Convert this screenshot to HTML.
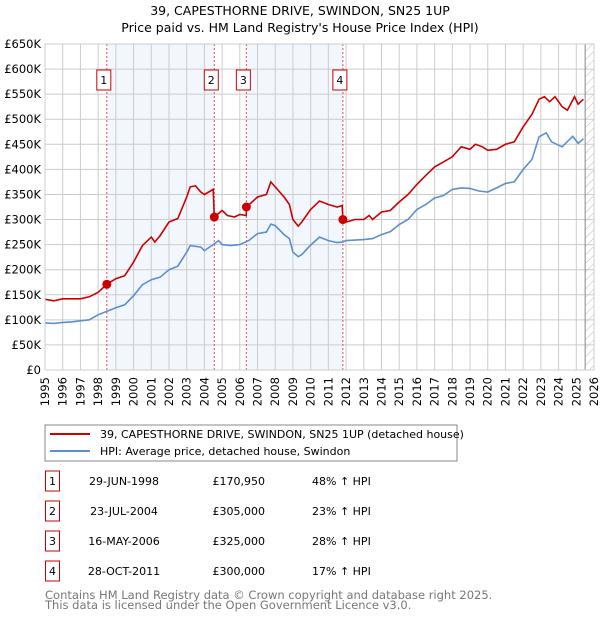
<!DOCTYPE html>
<html><head><meta charset="utf-8"><style>
body{margin:0;background:#fff;font-family:"DejaVu Sans","Liberation Sans",sans-serif;}
svg text{font-family:"DejaVu Sans","Liberation Sans",sans-serif;}
</style></head><body>
<svg width="600" height="620" xmlns="http://www.w3.org/2000/svg">
<defs><pattern id="hatch" width="6" height="6" patternUnits="userSpaceOnUse" patternTransform="rotate(45)"><line x1="0" y1="0" x2="0" y2="6" stroke="#bbb" stroke-width="1"/></pattern></defs>
<text x="300" y="15" text-anchor="middle" font-size="12.5">39, CAPESTHORNE DRIVE, SWINDON, SN25 1UP</text>
<text x="300" y="32" text-anchor="middle" font-size="12.5">Price paid vs. HM Land Registry's House Price Index (HPI)</text>
<g id="plot"></g>
<rect x="45" y="425" width="412" height="36" fill="#fff" stroke="#888"/>
<line x1="50" y1="434" x2="90" y2="434" stroke="#cc0000" stroke-width="2"/>
<text x="100" y="438" font-size="11">39, CAPESTHORNE DRIVE, SWINDON, SN25 1UP (detached house)</text>
<line x1="50" y1="451" x2="90" y2="451" stroke="#5b8fd0" stroke-width="2"/>
<text x="100" y="455" font-size="11">HPI: Average price, detached house, Swindon</text>
<g id="table" font-size="11"></g>
<text x="45" y="599" font-size="11.5" fill="#777">Contains HM Land Registry data © Crown copyright and database right 2025.</text>
<text x="45" y="609" font-size="11.5" fill="#777">This data is licensed under the Open Government Licence v3.0.</text>
</svg>
<script>
const hpiYears=[1995,1995.5,1996,1996.5,1997,1997.5,1998,1998.5,1999,1999.5,2000,2000.5,2001,2001.5,2002,2002.5,2003,2003.2,2003.8,2004,2004.5,2004.8,2005,2005.5,2006,2006.5,2007,2007.5,2007.75,2008,2008.5,2008.8,2009,2009.3,2009.5,2010,2010.5,2011,2011.5,2011.8,2012,2013,2013.5,2014,2014.5,2015,2015.5,2016,2016.5,2017,2017.5,2018,2018.5,2019,2019.5,2020,2020.5,2021,2021.5,2022,2022.5,2022.9,2023.3,2023.6,2024.2,2024.8,2025.1,2025.4];
const hpiValues=[94,93,95,96,98,100,110,117,124,130,148,170,180,185,200,207,235,248,245,238,250,258,250,248,250,258,272,275,291,288,270,262,235,226,230,249,265,258,254,255,258,260,262,270,276,290,300,320,330,343,348,360,363,362,357,355,363,372,375,400,420,465,473,455,445,466,452,461];
const priceYears=[1995,1995.5,1996,1997,1997.5,1998,1998.5,1999,1999.5,2000,2000.5,2001,2001.2,2001.5,2002,2002.5,2003,2003.2,2003.5,2003.8,2004,2004.5,2004.56,2005,2005.3,2005.7,2006,2006.36,2006.38,2007,2007.5,2007.75,2008,2008.5,2008.8,2009,2009.3,2009.5,2010,2010.5,2011,2011.5,2011.78,2011.82,2012,2012.5,2013,2013.3,2013.5,2014,2014.5,2015,2015.5,2016,2016.5,2017,2017.5,2018,2018.5,2019,2019.3,2019.7,2020,2020.5,2021,2021.5,2022,2022.5,2022.9,2023.2,2023.5,2023.8,2024.2,2024.5,2024.9,2025.1,2025.4];
const priceValues=[141,138,142,142,146,155,171,182,188,215,248,265,255,268,295,302,345,365,367,355,350,360,305,318,308,305,310,308,325,345,350,375,365,345,330,300,287,295,320,337,330,325,328,300,295,300,300,308,300,315,318,335,350,370,388,405,415,425,445,440,450,445,438,440,450,455,485,510,540,545,535,545,525,518,545,530,540];
const saleDates=[1998.49,2004.56,2006.37,2011.82];
const saleValues=[170.95,305,325,300];
const saleLabels=["1","2","3","4"];
const saleDateText=["29-JUN-1998","23-JUL-2004","16-MAY-2006","28-OCT-2011"];
const salePriceText=["£170,950","£305,000","£325,000","£300,000"];
const saleHpiText=["48% ↑ HPI","23% ↑ HPI","28% ↑ HPI","17% ↑ HPI"];
const yTicks=[0,50,100,150,200,250,300,350,400,450,500,550,600,650];
const xTicks=[];for(let y=1995;y<=2026;y++)xTicks.push(y);

const X0=45,X1=594,Y0=370,Y1=44;
const xs=v=>X0+(v-1995)/31*(X1-X0);
const ys=v=>Y0-v/650*(Y0-Y1);
const NS="http://www.w3.org/2000/svg";
const plot=document.getElementById('plot');
function mk(tag,attrs,parent){const e=document.createElementNS(NS,tag);for(const k in attrs)e.setAttribute(k,attrs[k]);(parent||plot).appendChild(e);return e;}
for(const [a,b] of [[0,1],[2,3]]){
 const r=mk('rect',{x:xs(saleDates[a]),y:Y1,width:xs(saleDates[b])-xs(saleDates[a]),height:Y0-Y1,fill:'#f2f6fd'});
 
 
}
const hx=xs(2025.5);
const h=mk('rect',{x:hx,y:Y1,width:X1-hx,height:Y0-Y1,fill:'url(#hatch)'});


for(const t of yTicks){
 mk('line',{x1:X0,x2:X1,y1:ys(t),y2:ys(t),stroke:'#ccc','stroke-width':1});
 const tx=mk('text',{x:41,y:ys(t)+4,'text-anchor':'end','font-size':11.5});
 tx.textContent=t===0?'£0':'£'+t+'K';
 
 
}
for(const t of xTicks){
 mk('line',{x1:xs(t),x2:xs(t),y1:Y1,y2:Y0,stroke:'#ccc','stroke-width':1});
 const tx=mk('text',{x:0,y:0,'text-anchor':'end','font-size':11.5,transform:`translate(${xs(t)+4},${Y0+7}) rotate(-90)`});
 tx.textContent=t;
 
 
}
mk('line',{x1:hx,x2:hx,y1:Y1,y2:Y0,stroke:'#888','stroke-width':1});
saleDates.forEach((d,i)=>{
 mk('line',{x1:xs(d),x2:xs(d),y1:Y1,y2:Y0,stroke:'#e05050','stroke-width':1,'stroke-dasharray':'2,2'});
 const g=mk('g',{});
 
 
 mk('rect',{x:xs(d)-10,y:70,width:14,height:20,fill:'#fff',stroke:'#cc0000'},g);
 const t=mk('text',{x:xs(d)-3,y:84,'text-anchor':'middle','font-size':11},g);t.textContent=saleLabels[i];
});
function path(xa,va,color,name){
 const p=mk('path',{d:xa.map((x,i)=>(i?'L':'M')+xs(x).toFixed(1)+','+ys(va[i]).toFixed(1)).join(''),fill:'none',stroke:color,'stroke-width':1.6});
 
 
}
path(hpiYears,hpiValues,'#5b8fd0','hpi-line');
path(priceYears,priceValues,'#cc0000','price-paid-line');
saleDates.forEach((d,i)=>{
 const c=mk('circle',{cx:xs(d),cy:ys(saleValues[i]),r:4.5,fill:'#cc0000'});
 
 
});
mk('rect',{x:X0,y:Y1,width:X1-X0,height:Y0-Y1,fill:'none',stroke:'#ccc'});
const tb=document.getElementById('table');
saleLabels.forEach((l,i)=>{
 const y=483+i*30;
 const g=mk('g',{},tb);
 
 
 mk('rect',{x:45.5,y:y-12,width:14,height:20,fill:'#fff',stroke:'#cc0000'},g);
 let t=mk('text',{x:52.5,y:y+2,'text-anchor':'middle'},g);t.textContent=l;
 t=mk('text',{x:124,y:y+2,'text-anchor':'middle'},g);t.textContent=saleDateText[i];
 t=mk('text',{x:265,y:y+2,'text-anchor':'end'},g);t.textContent=salePriceText[i];
 t=mk('text',{x:312,y:y+2},g);t.textContent=saleHpiText[i];
});
</script>
</body></html>
